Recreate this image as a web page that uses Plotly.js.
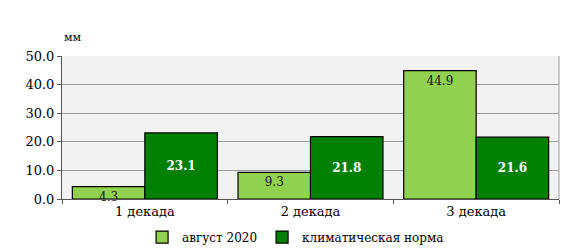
<!DOCTYPE html>
<html>
<head>
<meta charset="utf-8">
<script src="https://cdn.plot.ly/plotly-3.0.1.min.js"></script>
<style>html,body{margin:0;padding:0;background:#fff;}#chart{width:588px;height:250px;}</style>
</head>
<body>
<div id="chart"></div>
<script>
const categories = ["1 декада", "2 декада", "3 декада"];
const seriesNames = ["август 2020", "климатическая норма"];
const august2020 = [4.3, 9.3, 44.9];
const climateNorm = [23.1, 21.8, 21.6];
const yTickVals = [0, 10, 20, 30, 40, 50];
const yTickText = ["0.0", "10.0", "20.0", "30.0", "40.0", "50.0"];

const font = "DejaVu Serif";

const traces = [
  {
    type: "bar", name: seriesNames[0], x: categories, y: august2020,
    text: august2020.map(v => v.toFixed(1)),
    textposition: "inside", insidetextanchor: "end", textangle: 0,
    constraintext: "none", cliponaxis: false,
    insidetextfont: {family: font, size: 12, color: "#1a1a1a"},
    marker: {color: "#92d050", line: {color: "#000", width: 1.2}},
    hoverinfo: "none"
  },
  {
    type: "bar", name: seriesNames[1], x: categories, y: climateNorm,
    text: climateNorm.map(v => "<b>" + v.toFixed(1) + "</b>"),
    textposition: "inside", insidetextanchor: "middle", textangle: 0,
    constraintext: "none",
    insidetextfont: {family: font, size: 12, color: "#ffffff"},
    marker: {color: "#008000", line: {color: "#000", width: 1.2}},
    hoverinfo: "none"
  }
];

const layout = {
  width: 588, height: 250,
  margin: {l: 62, r: 29, t: 56, b: 51, autoexpand: false},
  paper_bgcolor: "#ffffff", plot_bgcolor: "#f2f2f2",
  font: {family: font, size: 13, color: "#000"},
  barmode: "group", bargap: 0.125, bargroupgap: 0,
  showlegend: true,
  legend: {orientation: "h", x: 0.47, xanchor: "center", y: -0.165, yanchor: "top",
           font: {family: font, size: 12}, itemwidth: 30, tracegroupgap: 0},
  xaxis: {
    type: "category", showline: true, linecolor: "#555", linewidth: 1,
    ticks: "outside", tickson: "boundaries", ticklen: 4, tickcolor: "#555",
    showgrid: false, tickfont: {family: font, size: 13}, fixedrange: true
  },
  yaxis: {
    range: [0, 50], tickvals: yTickVals, ticktext: yTickText,
    showline: true, linecolor: "#555", linewidth: 1,
    ticks: "outside", ticklen: 4, tickcolor: "#555",
    showgrid: true, gridcolor: "#9a9a9a", gridwidth: 1,
    zeroline: false, tickfont: {family: font, size: 13}, fixedrange: true
  },
  shapes: [
    {type: "line", xref: "paper", yref: "paper", x0: 1, x1: 1, y0: 0, y1: 1,
     line: {color: "#9a9a9a", width: 1}}
  ],
  annotations: [
    {xref: "paper", yref: "paper", x: 0, y: 1, xanchor: "left", yanchor: "bottom",
     yshift: 10, text: "мм", showarrow: false, font: {family: font, size: 11}}
  ]
};

Plotly.newPlot("chart", traces, layout, {displayModeBar: false, staticPlot: true});
</script>
</body>
</html>
